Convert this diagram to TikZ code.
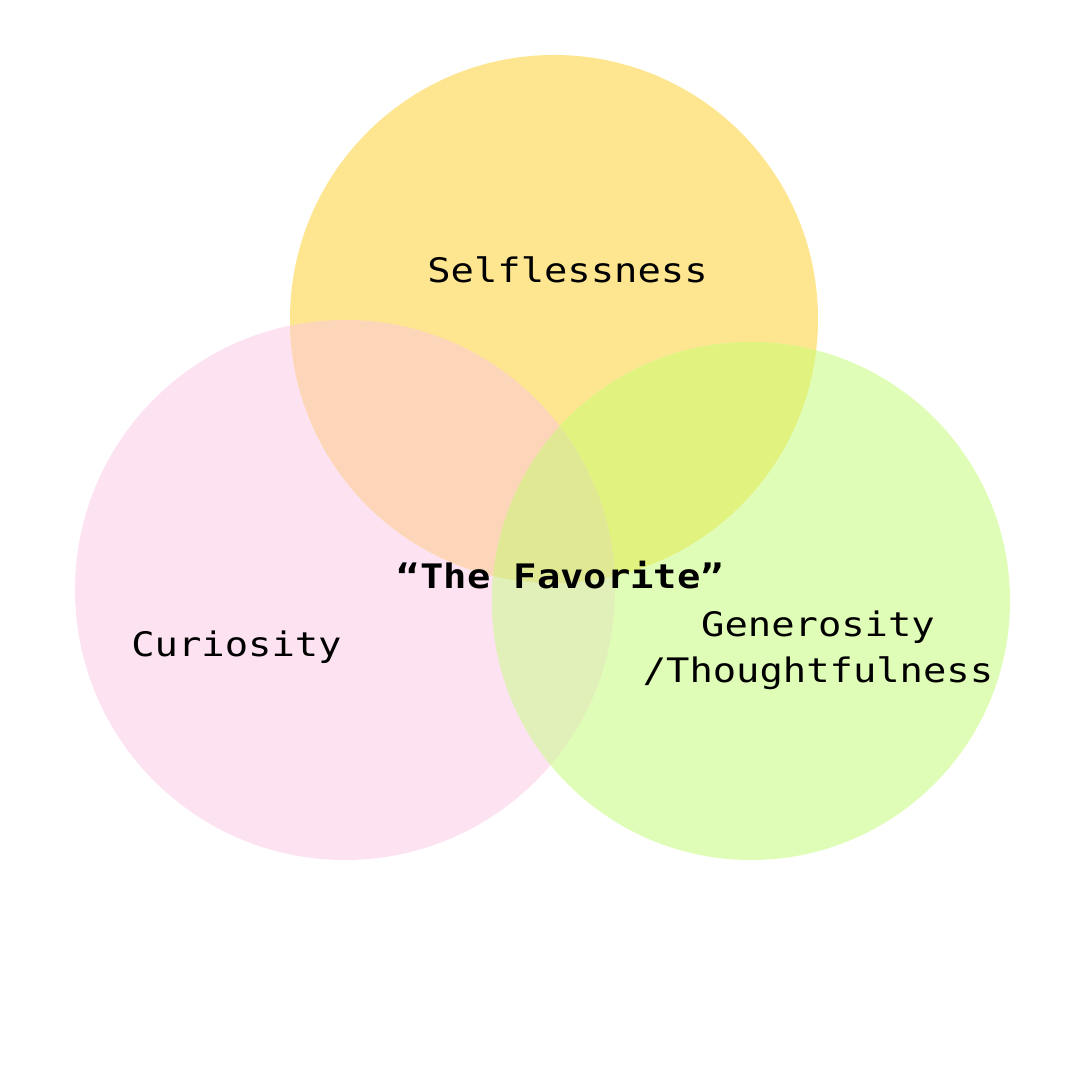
\documentclass[tikz,border=0pt]{standalone}
\usepackage{fontspec}
\setmonofont[FakeStretch=1.15]{DejaVu Sans Mono}
\usepackage{tikz}
\definecolor{selfyellow}{HTML}{FEE690}
\definecolor{curiopink}{HTML}{FDE2F1}
\definecolor{generogreen}{HTML}{E0FDB8}
\definecolor{peachmix}{HTML}{FDD6BA}
\definecolor{limemix}{HTML}{E2F27E}
\definecolor{palemix}{HTML}{E0F0B8}
\definecolor{centermix}{HTML}{E0E894}

\begin{document}
\begin{tikzpicture}[
  font=\ttfamily\fontsize{9.6}{13.1}\selectfont,
  trait/.style={inner sep=0pt, anchor=base, align=center, text=black},
  fav/.style={trait, font=\ttfamily\bfseries\fontsize{9.6}{13.1}\selectfont}
]
  \useasboundingbox (0,0) rectangle (10.8,10.8);
  \coordinate (cself) at (5.54,7.61);
  \coordinate (ccurio) at (3.45,4.90);
  \coordinate (cgen) at (7.51,4.79);
  % plain circles
  \fill[curiopink] (ccurio) circle (2.70);
  \fill[selfyellow] (cself) circle (2.64);
  \fill[generogreen] (cgen) circle (2.59);
  % overlaps
  \begin{scope}
    \clip (cself) circle (2.64);
    \fill[limemix] (cgen) circle (2.59);
  \end{scope}
  \begin{scope}
    \clip (ccurio) circle (2.70);
    \fill[peachmix] (cself) circle (2.64);
    \fill[palemix] (cgen) circle (2.59);
    \clip (cself) circle (2.64);
    \fill[centermix] (cgen) circle (2.59);
  \end{scope}
  \node[trait] (self) at (5.675,7.97) {Selflessness};
  \node[trait] (curio) at (2.365,4.23) {Curiosity};
  \node[trait] (gen) at (8.18,3.97) {Generosity\\/Thoughtfulness};
  \node[fav] (favorite) at (5.605,4.91) {“The Favorite”};
\end{tikzpicture}
\end{document}
